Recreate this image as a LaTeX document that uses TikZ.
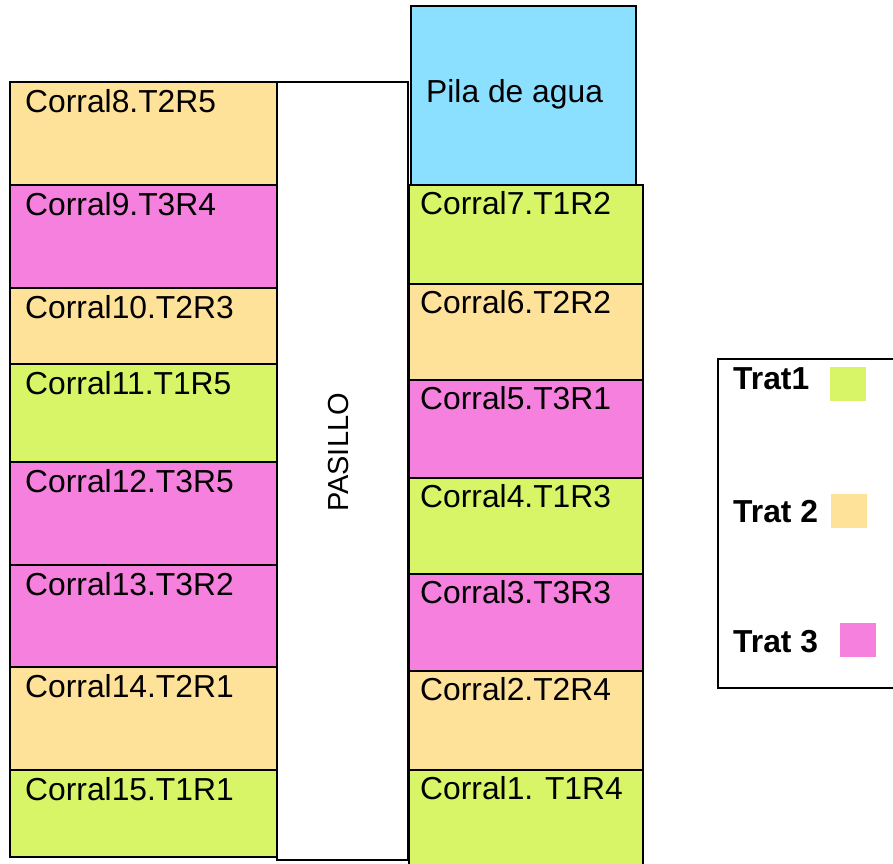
\documentclass[tikz,border=0pt]{standalone}
\usepackage{fontspec}
\setmainfont{Liberation Sans}
\usetikzlibrary{calc}
\definecolor{tratA}{RGB}{216,245,103}
\definecolor{tratB}{RGB}{255,226,153}
\definecolor{tratC}{RGB}{245,128,222}
\definecolor{agua}{RGB}{139,224,255}
\tikzset{
  cell/.style={draw=black, line width=2.7pt, rectangle, inner sep=0pt, outer sep=0pt, anchor=north west},
  lbl/.style={font=\fontsize{31.8}{38}\selectfont, inner sep=0pt, anchor=base west},
  leglbl/.style={font=\fontsize{31.8}{38}\selectfont\bfseries, inner sep=0pt, anchor=base west},
  swatch/.style={rectangle, inner sep=0pt, outer sep=0pt, minimum width=36pt, minimum height=34pt, anchor=north west},
}
% \corralL / \corralR: name, top y, height, fill, label
\newcommand{\corralL}[5]{%
  \node[cell, fill=#4, minimum width=267pt, minimum height=#3pt] (#1) at (10,#2) {};
  \node[lbl] (#1t) at ($(#1.north west)+(15,30)$) {#5};
}
\newcommand{\corralR}[5]{%
  \node[cell, fill=#4, minimum width=234pt, minimum height=#3pt] (#1) at (409,#2) {};
  \node[lbl] (#1t) at ($(#1.north west)+(11,29)$) {#5};
}
\begin{document}
\begin{tikzpicture}[x=1pt, y=-1pt]
\clip (0,0) rectangle (893,863);
\fill[white] (0,0) rectangle (893,863);

% left row of pens
\corralL{c8}{82}{103}{tratB}{Corral8.T2R5}
\corralL{c9}{185}{103}{tratC}{Corral9.T3R4}
\corralL{c10}{288}{76}{tratB}{Corral10.T2R3}
\corralL{c11}{364}{98}{tratA}{Corral11.T1R5}
\corralL{c12}{462}{103}{tratC}{Corral12.T3R5}
\corralL{c13}{565}{102}{tratC}{Corral13.T3R2}
\corralL{c14}{667}{103}{tratB}{Corral14.T2R1}
\corralL{c15}{770}{87}{tratA}{Corral15.T1R1}

% corridor
\node[cell, fill=white, minimum width=131pt, minimum height=778pt] (pasillo) at (277,82) {};
\node[font=\fontsize{29}{35}\selectfont, rotate=90, inner sep=0pt] (pasillot) at (338.5,452.5) {PASILLO};

% right row of pens
\corralR{c7}{185}{99}{tratA}{Corral7.T1R2}
\corralR{c6}{284}{96}{tratB}{Corral6.T2R2}
\corralR{c5}{380}{98}{tratC}{Corral5.T3R1}
\corralR{c4}{478}{96}{tratA}{Corral4.T1R3}
\corralR{c3}{574}{97}{tratC}{Corral3.T3R3}
\corralR{c2}{671}{99}{tratB}{Corral2.T2R4}
\corralR{c1}{770}{100}{tratA}{Corral1. T1R4}

% water trough
\node[cell, fill=agua, minimum width=225pt, minimum height=179pt] (pila) at (411,6) {};
\node[lbl] (pilat) at (426,102) {Pila de agua};

% legend
\node[cell, fill=white, minimum width=190pt, minimum height=329pt] (legend) at (718,359) {};
\node[leglbl] (l1) at (733,389) {Trat1};
\node[swatch, fill=tratA] (s1) at (830,367) {};
\node[leglbl] (l2) at (733,522) {Trat 2};
\node[swatch, fill=tratB] (s2) at (831,494) {};
\node[leglbl] (l3) at (733,652) {Trat 3};
\node[swatch, fill=tratC] (s3) at (840,623) {};
\end{tikzpicture}
\end{document}
